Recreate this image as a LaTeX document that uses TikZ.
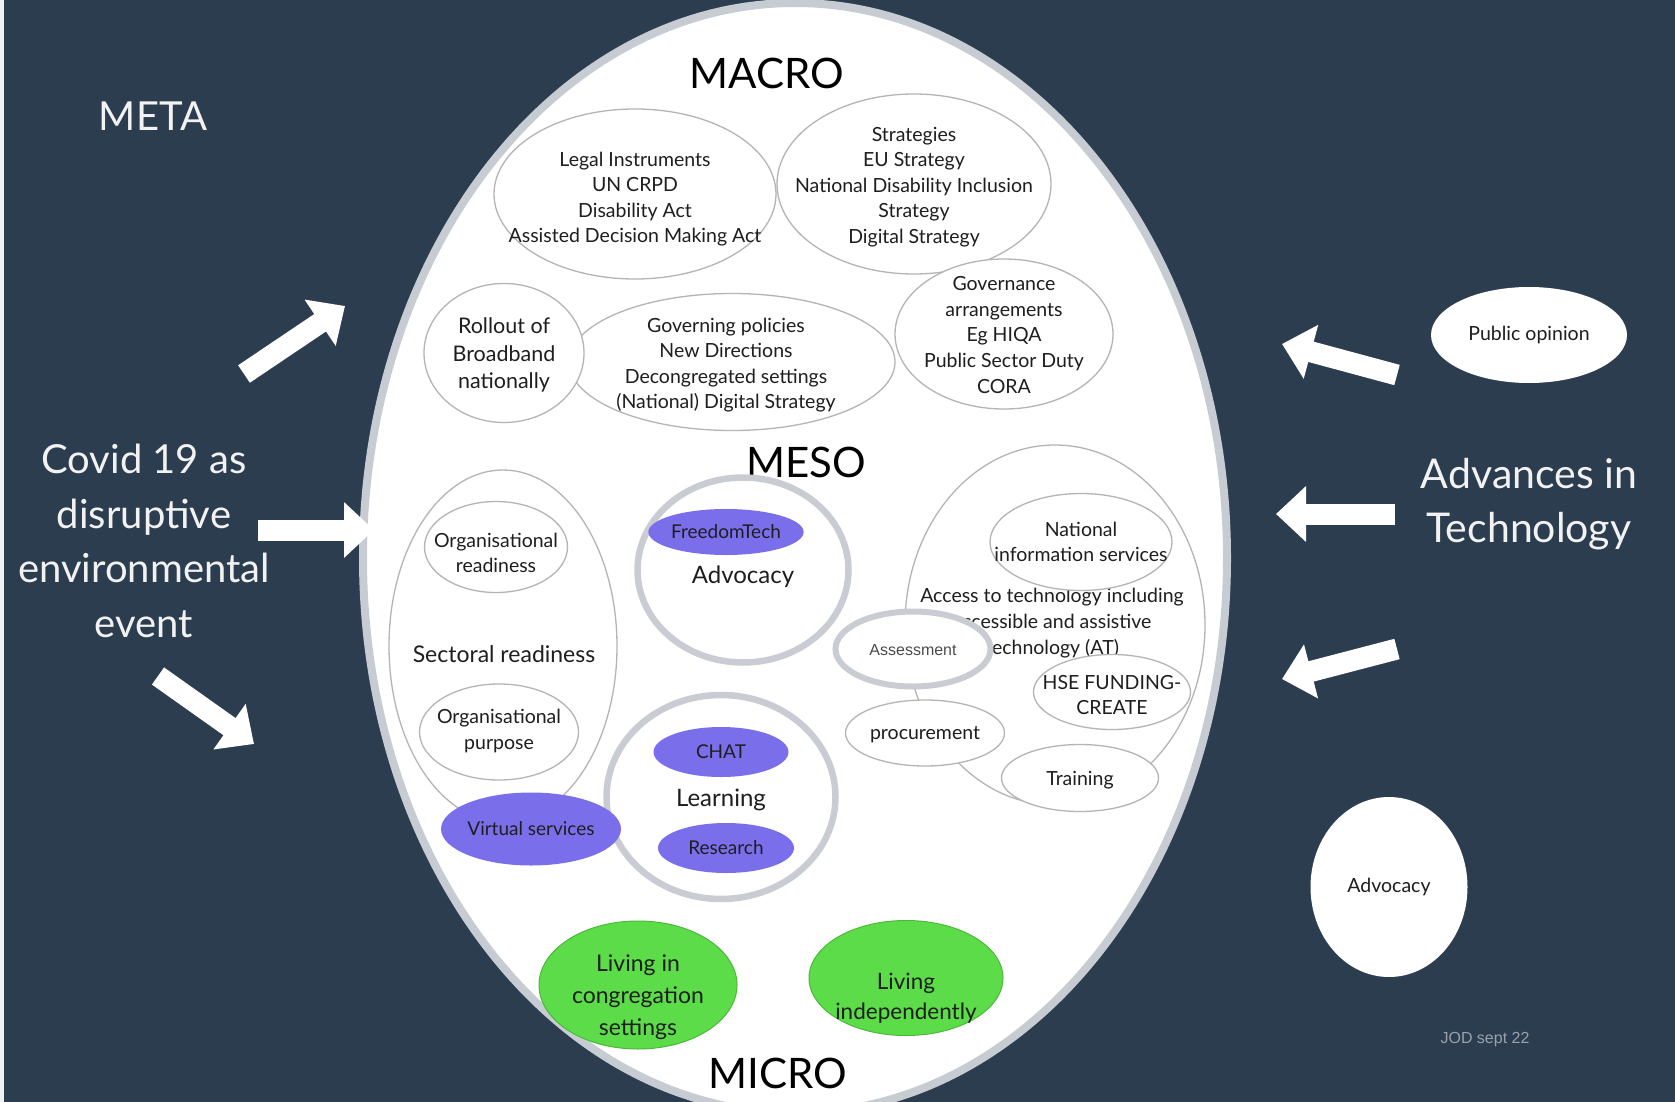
\documentclass[tikz,border=0pt]{standalone}
\usepackage{fontspec}
\setmainfont{Lato}
\newfontfamily\helv{Liberation Sans}
\usepackage{tikz}
\usetikzlibrary{shapes.geometric,arrows.meta}
\definecolor{bg}{HTML}{2C3D50}
\definecolor{eggrim}{HTML}{C7CCD3}
\definecolor{rim}{HTML}{B4B4B4}
\definecolor{ringrim}{HTML}{C9CDD3}
\definecolor{ink}{HTML}{1E1E1E}
\definecolor{pillviolet}{HTML}{7B6EEB}
\definecolor{livegreen}{HTML}{5CDC48}
\definecolor{liveedge}{HTML}{4CB83A}
\definecolor{pale}{HTML}{F2F2F2}
\definecolor{stamp}{HTML}{98A2AD}
\newcommand\setfs[2]{\fontsize{#1}{#2}\selectfont}
\tikzset{
  bubble/.style={ellipse, draw=rim, line width=1.3pt, fill=white, inner sep=0pt},
  ring/.style={ellipse, draw=ringrim, line width=6.5pt, fill=white, inner sep=0pt},
  pill/.style={ellipse, fill=pillviolet, inner sep=0pt, text=ink, font=\setfs{19}{24}},
  living/.style={ellipse, fill=livegreen, draw=liveedge, line width=1pt, inner sep=0pt},
  blob/.style={ellipse, fill=white, inner sep=0pt, text=ink, font=\setfs{19.5}{24}},
  txt/.style={align=center, text=ink, inner sep=0pt, font=\setfs{19.5}{25.6}},
  bigtxt/.style={align=center, text=ink, inner sep=0pt, font=\setfs{24}{30}},
  tier/.style={text=black, inner sep=0pt, font=\setfs{42}{50}},
  sidetext/.style={text=pale, align=center, inner sep=0pt, font=\setfs{40}{54.5}},
  push/.style={draw=white, line width=21pt, -{Triangle[length=30pt,width=54pt]}},
}
\begin{document}
\begin{tikzpicture}[x=1pt,y=-1pt]
  \useasboundingbox (0,0) rectangle (1675,1102);
  \fill[bg] (0,0) rectangle (1675,1102);
  \fill[pale] (0,0) rectangle (4,1102);

  % the egg
  \begin{scope}
    \clip (0,0) rectangle (1675,1102);
    \draw[eggrim, line width=8pt, fill=white] (795,558) ellipse [x radius=432, y radius=555];
  \end{scope}

  \node[tier] (macro) at (767,73) {MACRO};
  \node[tier] (meso) at (806,462) {MESO};
  \node[tier] (micro) at (778,1073) {MICRO};

  % macro level
  \node[bubble, minimum width=282pt, minimum height=170pt] (legal) at (635,194) {};
  \node[txt] (legal-t) at (635,199) {Legal Instruments\\UN CRPD\\Disability Act\\Assisted Decision Making Act};
  \node[bubble, minimum width=274pt, minimum height=180pt] (strat) at (914,184) {};
  \node[txt] (strat-t) at (914,187) {Strategies\\EU Strategy\\National Disability Inclusion\\Strategy\\Digital Strategy};
  \node[bubble, minimum width=218pt, minimum height=150pt] (gov) at (1004,334) {};
  \node[txt] (gov-t) at (1004,335) {Governance\\arrangements\\Eg HIQA\\Public Sector Duty\\CORA};
  \node[bubble, minimum width=326pt, minimum height=137pt] (policy) at (732,362) {};
  \node[txt] (policy-t) at (726,365) {Governing policies\\New Directions\\Decongregated settings\\(National) Digital Strategy};
  \node[bubble, minimum width=160pt, minimum height=139pt] (broad) at (504,353) {};
  \node[txt, font=\setfs{21.5}{27.8}] (broad-t) at (504,355) {Rollout of\\Broadband\\nationally};

  % meso level, left
  \node[bubble, minimum width=228pt, minimum height=352pt] (sector) at (503,646) {};
  \node[txt, font=\setfs{23}{28}] (sector-t) at (504,654) {Sectoral readiness};
  \node[bubble, minimum width=143pt, minimum height=91pt] (orgready) at (496,547) {};
  \node[txt] (orgready-t) at (496,553) {Organisational\\readiness};
  \node[bubble, minimum width=159pt, minimum height=96pt] (orgpurp) at (499,732) {};
  \node[txt] (orgpurp-t) at (499,731) {Organisational\\purpose};

  \node[ring, minimum width=211pt, minimum height=185pt] (advring) at (743,570) {};
  \node[bigtxt] (advring-t) at (743,577) {Advocacy};
  \node[pill, minimum width=145pt, minimum height=46pt] (freedom) at (726,532) {FreedomTech};
  \node[ring, minimum width=229pt, minimum height=204pt] (learn) at (721,797) {};
  \node[bigtxt] (learn-t) at (721,800) {Learning};
  \node[pill, minimum width=135pt, minimum height=50pt] (chat) at (721,752) {CHAT};
  \node[pill, minimum width=136pt, minimum height=50pt] (research) at (726,848) {Research};
  \node[pill, minimum width=177pt, minimum height=73pt] (virtual) at (531,829) {Virtual services};

  % meso level, right
  \node[bubble, minimum width=300pt, minimum height=360pt] (access) at (1055,625) {};
  \node[txt] (access-t) at (1052,623) {Access to technology including\\accessible and assistive\\technology (AT)};
  \node[bubble, minimum width=182pt, minimum height=97pt] (natinfo) at (1081,542) {};
  \node[txt] (natinfo-t) at (1081,542) {National\\information services};
  \node[ring, line width=6pt, minimum width=155pt, minimum height=75pt] (assess) at (913,649) {};
  \node[text=ink!80, font=\helv\setfs{16}{19}] (assess-t) at (913,650) {Assessment};
  \node[bubble, minimum width=157pt, minimum height=75pt] (hse) at (1112,692) {};
  \node[txt] (hse-t) at (1112,695) {HSE FUNDING-\\CREATE};
  \node[bubble, minimum width=159pt, minimum height=66pt] (procure) at (925,733) {};
  \node[txt] (procure-t) at (925,735) {procurement};
  \node[bubble, minimum width=157pt, minimum height=67pt] (train) at (1080,778) {};
  \node[txt] (train-t) at (1080,780) {Training};

  % micro level
  \node[living, minimum width=198pt, minimum height=128pt] (congr) at (638,985) {};
  \node[txt, font=\setfs{23}{32}] (congr-t) at (638,997) {Living in\\congregation\\settings};
  \node[living, minimum width=194pt, minimum height=115pt] (indep) at (906,978) {};
  \node[txt, font=\setfs{22.5}{30}] (indep-t) at (906,998) {Living\\independently};

  % outside the egg
  \node[sidetext] (meta) at (153,116) {META};
  \node[sidetext] (covid) at (144,541) {Covid 19 as\\disruptive\\environmental\\event};
  \node[sidetext, font=\setfs{41}{54}] (advances) at (1529,504) {Advances in\\Technology};
  \node[blob, minimum width=196pt, minimum height=96pt] (opinion) at (1529,335) {Public opinion};
  \node[blob, minimum width=157pt, minimum height=180pt] (advocacy) at (1389,887) {Advocacy};
  \node[text=stamp, font=\helv\setfs{16}{19}] (stamp) at (1485,1040) {JOD sept 22};

  \coordinate (l1a) at (244,374);  \coordinate (l1b) at (345,306);
  \coordinate (l2a) at (258,530);  \coordinate (l2b) at (374,530);
  \coordinate (l3a) at (158,676);  \coordinate (l3b) at (254,744);
  \coordinate (r1a) at (1397,375); \coordinate (r1b) at (1282,344);
  \coordinate (r2a) at (1395,514); \coordinate (r2b) at (1276,514);
  \coordinate (r3a) at (1397,649); \coordinate (r3b) at (1282,679);
  \draw[push] (l1a) -- (l1b);
  \draw[push] (l2a) -- (l2b);
  \draw[push] (l3a) -- (l3b);
  \draw[push] (r1a) -- (r1b);
  \draw[push] (r2a) -- (r2b);
  \draw[push] (r3a) -- (r3b);
\end{tikzpicture}
\end{document}
